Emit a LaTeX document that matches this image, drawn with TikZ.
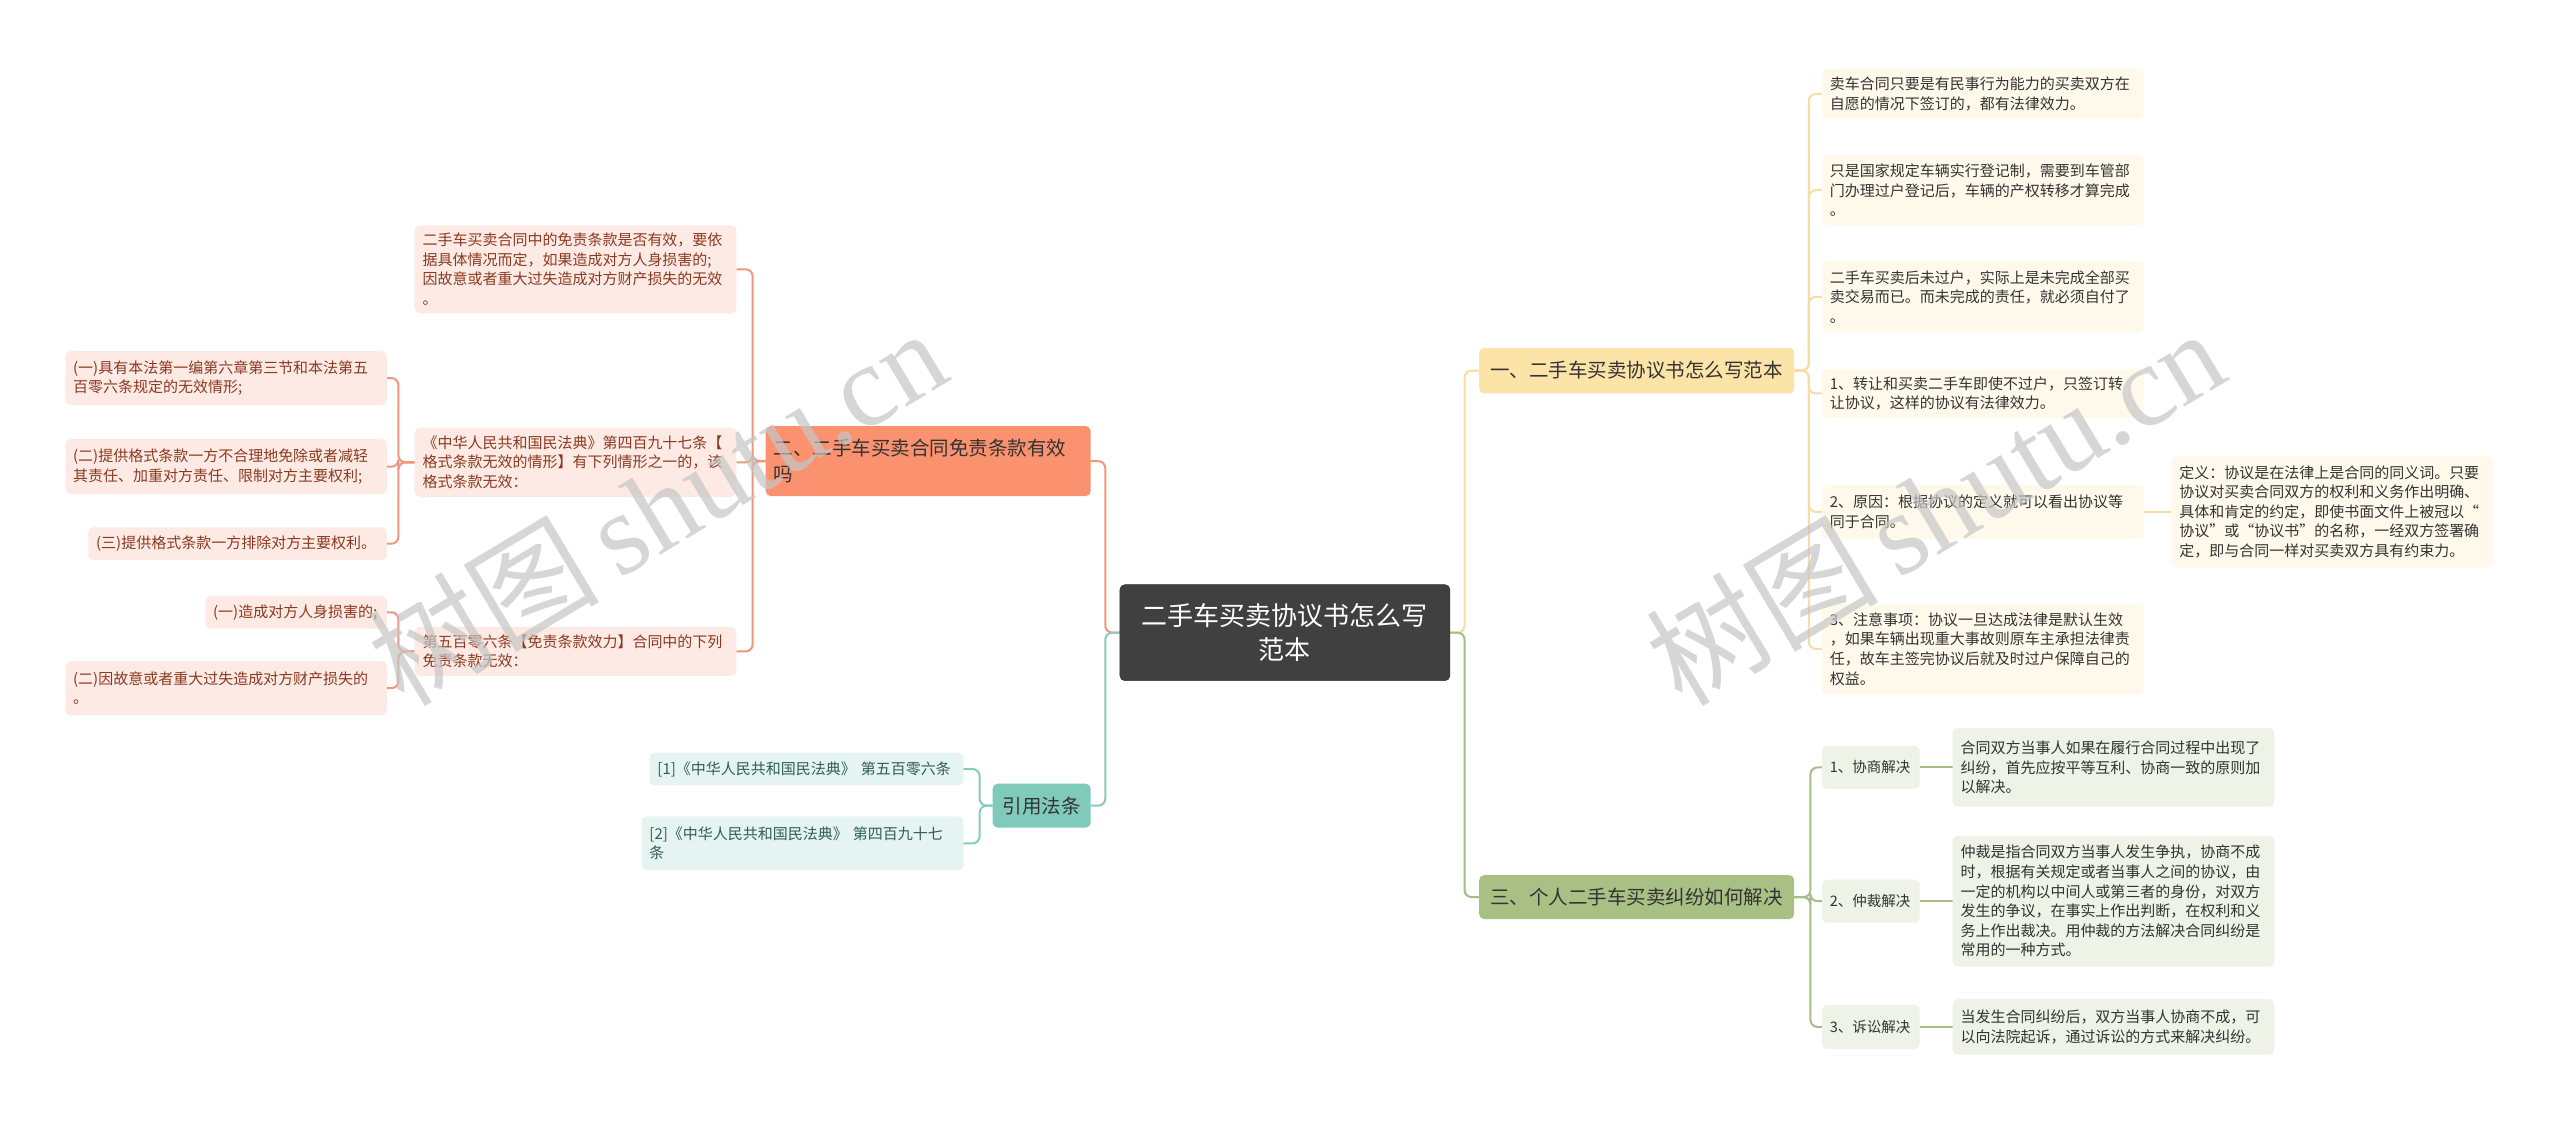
\documentclass[tikz,border=0pt]{standalone}
\usepackage{fontspec}
\setmainfont{Noto Sans CJK SC}
\newfontfamily\wmserif{Liberation Serif}
\newfontfamily\wmcjk{Noto Sans CJK SC}
\definecolor{cdark}{HTML}{404040}
\definecolor{salfill}{HTML}{FA916F}
\definecolor{salline}{HTML}{F0967C}
\definecolor{pinkfill}{HTML}{FDEAE4}
\definecolor{pinktext}{HTML}{8A3A20}
\definecolor{tealfill}{HTML}{7FCABA}
\definecolor{tealline}{HTML}{86CBBE}
\definecolor{tlfill}{HTML}{E5F4F1}
\definecolor{tltext}{HTML}{2F5E55}
\definecolor{yelfill}{HTML}{FCE3A7}
\definecolor{yelline}{HTML}{F6DDA0}
\definecolor{ylfill}{HTML}{FEF9EB}
\definecolor{grnfill}{HTML}{A8C084}
\definecolor{grnline}{HTML}{A5BD86}
\definecolor{glfill}{HTML}{EEF2E7}
\definecolor{dtext}{HTML}{333333}
\pgfdeclarelayer{back}
\pgfdeclarelayer{lines}
\pgfsetlayers{back,lines,main}
\tikzset{
  base/.style={rectangle, rounded corners=5pt, inner ysep=0pt, outer sep=0pt},
  leaf/.style={base, text width=306pt, inner xsep=7.85pt, align=left, font=\fontsize{15}{19.6}\selectfont},
  pinkleaf/.style={leaf, fill=pinkfill, text=pinktext},
  tealleaf/.style={leaf, fill=tlfill, text=tltext},
  yelleaf/.style={leaf, fill=ylfill, text=dtext},
  grnleaf/.style={leaf, fill=glfill, text=dtext},
  branch/.style={base, font=\fontsize{19.5}{26}\selectfont, text=dtext},
  conn/.style={line width=2pt, rounded corners=7pt},
  csal/.style={conn, draw=salline},
  cteal/.style={conn, draw=tealline},
  cyel/.style={conn, draw=yelline},
  cgrn/.style={conn, draw=grnline},
  wmark/.style={text=gray!45, opacity=0.7, rotate=31, inner sep=0pt}
}
\begin{document}
\begin{tikzpicture}[x=1.633pt,y=-1.633pt]
\useasboundingbox (0,0) rectangle (1568,687);
\begin{pgfonlayer}{back}
\fill[white] (0,0) rectangle (1568,687);
\end{pgfonlayer}

% center
\node[base, fill=cdark, draw=black!80, line width=0.6pt, text=white, align=center,
  text width=300pt, inner xsep=15pt, minimum height=96pt,
  font=\fontsize{26}{34}\selectfont] (c) at (787,387.5) {二手车买卖协议书怎么写\\范本};

% main branches
\node[branch, fill=salfill, anchor=north west, text width=309pt, inner xsep=8pt, align=left, minimum height=70pt] (b2) at (469,261) {二、二手车买卖合同免责条款有效\\吗};
\node[branch, fill=tealfill, anchor=north west, minimum width=98pt, minimum height=44pt] (b4) at (608,480) {引用法条};
\node[branch, fill=yelfill, anchor=north west, minimum width=315pt, minimum height=45.7pt] (b1) at (906,213) {一、二手车买卖协议书怎么写范本};
\node[branch, fill=grnfill, anchor=north west, minimum width=315pt, minimum height=44pt] (b3) at (906,536) {三、个人二手车买卖纠纷如何解决};

% branch 二 children
\node[pinkleaf, anchor=north west, minimum height=88pt] (a1) at (254,138) {二手车买卖合同中的免责条款是否有效，要依\\据具体情况而定，如果造成对方人身损害的;\\因故意或者重大过失造成对方财产损失的无效\\。};
\node[pinkleaf, anchor=north west, minimum height=69pt] (a2) at (254,262) {《中华人民共和国民法典》第四百九十七条【\\格式条款无效的情形】有下列情形之一的，该\\格式条款无效：};
\node[pinkleaf, anchor=north west, minimum height=49pt] (a3) at (254,384) {第五百零六条【免责条款效力】合同中的下列\\免责条款无效：};

\node[pinkleaf, anchor=north west, minimum height=54pt] (p1) at (40,215) {(一)具有本法第一编第六章第三节和本法第五\\百零六条规定的无效情形;};
\node[pinkleaf, anchor=north west, minimum height=55pt] (p2) at (40,269) {(二)提供格式条款一方不合理地免除或者减轻\\其责任、加重对方责任、限制对方主要权利;};
\node[pinkleaf, anchor=north east, text width=283pt, minimum height=32.7pt] (p3) at (237,323) {(三)提供格式条款一方排除对方主要权利。};

\node[pinkleaf, anchor=north east, text width=166pt, minimum height=32.7pt] (q1) at (237,365) {(一)造成对方人身损害的;};
\node[pinkleaf, anchor=north west, minimum height=54pt] (q2) at (40,405) {(二)因故意或者重大过失造成对方财产损失的\\。};

% 引用法条 children
\node[tealleaf, anchor=north east, text width=298pt, minimum height=32.7pt] (d1) at (590,461) {[1]《中华人民共和国民法典》 第五百零六条};
\node[tealleaf, anchor=north west, minimum height=54pt] (d2) at (393,500) {[2]《中华人民共和国民法典》 第四百九十七\\条};

% branch 一 children
\node[yelleaf, anchor=north west, minimum height=50.6pt] (e1) at (1116,42) {卖车合同只要是有民事行为能力的买卖双方在\\自愿的情况下签订的，都有法律效力。};
\node[yelleaf, anchor=north west, minimum height=70.2pt] (e2) at (1116,95) {只是国家规定车辆实行登记制，需要到车管部\\门办理过户登记后，车辆的产权转移才算完成\\。};
\node[yelleaf, anchor=north west, minimum height=71.5pt] (e3) at (1116,160) {二手车买卖后未过户，实际上是未完成全部买\\卖交易而已。而未完成的责任，就必须自付了\\。};
\node[yelleaf, anchor=north west, minimum height=49pt] (e4) at (1116,226) {1、转让和买卖二手车即使不过户，只签订转\\让协议，这样的协议有法律效力。};
\node[yelleaf, anchor=north west, minimum height=53.9pt] (e5) at (1116,297) {2、原因：根据协议的定义就可以看出协议等\\同于合同。};
\node[yelleaf, anchor=north west, minimum height=89.8pt] (e6) at (1116,370) {3、注意事项：协议一旦达成法律是默认生效\\，如果车辆出现重大事故则原车主承担法律责\\任，故车主签完协议后就及时过户保障自己的\\权益。};
\node[yelleaf, anchor=west, minimum height=111pt] (f1) at (1330,313.5) {定义：协议是在法律上是合同的同义词。只要\\协议对买卖合同双方的权利和义务作出明确、\\具体和肯定的约定，即使书面文件上被冠以“\\协议”或“协议书”的名称，一经双方签署确\\定，即与合同一样对买卖双方具有约束力。};

% branch 三 children
\node[grnleaf, anchor=north west, minimum height=78.4pt] (h1) at (1196,446) {合同双方当事人如果在履行合同过程中出现了\\纠纷，首先应按平等互利、协商一致的原则加\\以解决。};
\node[grnleaf, anchor=north west, minimum height=130.6pt] (h2) at (1196,512) {仲裁是指合同双方当事人发生争执，协商不成\\时，根据有关规定或者当事人之间的协议，由\\一定的机构以中间人或第三者的身份，对双方\\发生的争议，在事实上作出判断，在权利和义\\务上作出裁决。用仲裁的方法解决合同纠纷是\\常用的一种方式。};
\node[grnleaf, anchor=north west, minimum height=55.5pt] (h3) at (1196,612) {当发生合同纠纷后，双方当事人协商不成，可\\以向法院起诉，通过诉讼的方式来解决纠纷。};
\node[grnleaf, anchor=west, text width=82pt, minimum height=43pt, font=\fontsize{14.5}{19}\selectfont] (g1) at (1116,470) {1、协商解决};
\node[grnleaf, anchor=west, text width=82pt, minimum height=43pt, font=\fontsize{14.5}{19}\selectfont] (g2) at (1116,552) {2、仲裁解决};
\node[grnleaf, anchor=west, text width=82pt, minimum height=44pt, font=\fontsize{14.5}{19}\selectfont] (g3) at (1116,629) {3、诉讼解决};

% connectors
\begin{pgfonlayer}{lines}
\draw[csal] (c.west) -- ++(-9,0) |- (b2.east);
\draw[cteal] (c.west) -- ++(-9,0) |- (b4.east);
\draw[cyel] (c.east) -- ++(9,0) |- (b1.west);
\draw[cgrn] (c.east) -- ++(9,0) |- (b3.west);

\draw[csal] (b2.west) -- ++(-8,0) |- (a1.east);
\draw[csal] (b2.west) -- ++(-8,0) |- (a2.east);
\draw[csal] (b2.west) -- ++(-8,0) |- (a3.east);
\draw[csal] (a2.west) -- ++(-10,0) |- (p1.east);
\draw[csal] (a2.west) -- ++(-10,0) |- (p2.east);
\draw[csal] (a2.west) -- ++(-10,0) |- (p3.east);
\draw[csal] (a3.west) -- ++(-10,0) |- (q1.east);
\draw[csal] (a3.west) -- ++(-10,0) |- (q2.east);

\draw[cteal] (b4.west) -- ++(-8,0) |- (d1.east);
\draw[cteal] (b4.west) -- ++(-8,0) |- (d2.east);

\foreach \e in {e1,e2,e3,e4,e5,e6}
  \draw[cyel] (b1.east) -- ++(9,0) |- (\e.west);
\draw[cyel] (e5.east) -- (f1.west);

\foreach \g in {g1,g2,g3}
  \draw[cgrn] (b3.east) -- ++(10,0) |- (\g.west);
\draw[cgrn] (g1.east) -- (h1.west |- g1.east);
\draw[cgrn] (g2.east) -- (h2.west |- g2.east);
\draw[cgrn] (g3.east) -- (h3.west |- g3.east);
\end{pgfonlayer}

% watermarks
\node[wmark] (w1) at (402,310) {\fontsize{116}{116}\selectfont\wmcjk 树图\,\wmserif shutu.cn};
\node[wmark] (w2) at (1185,310) {\fontsize{116}{116}\selectfont\wmcjk 树图\,\wmserif shutu.cn};
\end{tikzpicture}
\end{document}
